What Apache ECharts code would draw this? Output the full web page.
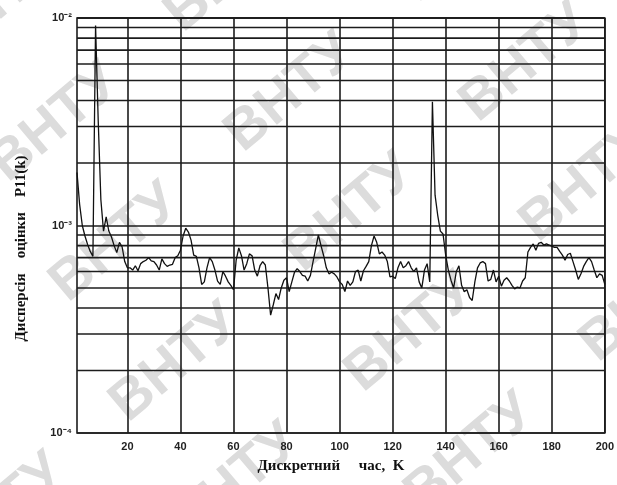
<!DOCTYPE html>
<html>
<head>
<meta charset="utf-8">
<script src="https://cdn.jsdelivr.net/npm/echarts@6/dist/echarts.min.js"></script>
<style>
  html, body { margin: 0; padding: 0; background: #fff; }
  #chart { width: 617px; height: 485px; }
</style>
</head>
<body>
<div id="chart"></div>
<script>
// дискретний час K = 1..200, дисперсія оцінки P11(k)
const variance = [
    1.8e-3, 1.26e-3, 1.0e-3, 8.9e-4, 8.1e-4, 7.5e-4, 7.1e-4, 9.2e-3, 3.2e-3, 1.33e-3,
    9.4e-4, 1.1e-3, 9.4e-4, 8.8e-4, 8.0e-4, 7.4e-4, 8.3e-4, 7.9e-4, 6.7e-4, 6.25e-4,
    6.25e-4, 6.1e-4, 6.4e-4, 6.05e-4, 6.55e-4, 6.7e-4, 6.8e-4, 7.0e-4, 6.75e-4, 6.7e-4,
    6.45e-4, 6.1e-4, 6.9e-4, 6.55e-4, 6.35e-4, 6.45e-4, 6.5e-4, 7.0e-4, 7.15e-4, 7.6e-4,
    8.9e-4, 9.7e-4, 9.3e-4, 8.5e-4, 7.2e-4, 7.1e-4, 6.25e-4, 5.2e-4, 5.35e-4, 6.25e-4,
    7.0e-4, 6.7e-4, 6.1e-4, 5.4e-4, 5.2e-4, 6.0e-4, 5.7e-4, 5.35e-4, 5.15e-4, 4.9e-4,
    6.8e-4, 7.8e-4, 7.15e-4, 6.1e-4, 6.55e-4, 7.3e-4, 7.15e-4, 6.1e-4, 5.7e-4, 6.4e-4,
    6.7e-4, 6.45e-4, 5.0e-4, 3.7e-4, 4.15e-4, 4.7e-4, 4.4e-4, 5.0e-4, 5.45e-4, 5.6e-4,
    4.8e-4, 5.35e-4, 5.95e-4, 6.2e-4, 6.0e-4, 5.75e-4, 5.7e-4, 5.4e-4, 5.75e-4, 6.7e-4,
    7.75e-4, 9.0e-4, 8.0e-4, 7.15e-4, 6.25e-4, 5.85e-4, 5.95e-4, 5.85e-4, 5.65e-4, 5.35e-4,
    5.2e-4, 4.8e-4, 5.4e-4, 5.15e-4, 5.35e-4, 6.0e-4, 6.1e-4, 5.4e-4, 6.05e-4, 6.35e-4,
    6.7e-4, 8.0e-4, 8.9e-4, 8.3e-4, 7.3e-4, 7.45e-4, 7.2e-4, 6.7e-4, 5.65e-4, 5.7e-4,
    5.55e-4, 6.25e-4, 6.7e-4, 6.25e-4, 6.4e-4, 6.7e-4, 6.25e-4, 6.0e-4, 6.25e-4, 5.35e-4,
    5.0e-4, 6.1e-4, 6.55e-4, 5.35e-4, 3.95e-3, 1.4e-3, 1.12e-3, 9.4e-4, 9.1e-4, 7.2e-4,
    6.1e-4, 5.45e-4, 5.0e-4, 6.0e-4, 6.4e-4, 5.15e-4, 4.8e-4, 4.9e-4, 4.5e-4, 4.35e-4,
    5.35e-4, 6.25e-4, 6.6e-4, 6.7e-4, 6.55e-4, 5.4e-4, 5.5e-4, 6.1e-4, 5.35e-4, 5.7e-4,
    5.1e-4, 5.45e-4, 5.6e-4, 5.4e-4, 5.15e-4, 4.95e-4, 5.05e-4, 5.0e-4, 5.4e-4, 5.6e-4,
    7.45e-4, 7.85e-4, 8.15e-4, 7.6e-4, 8.2e-4, 8.3e-4, 8.05e-4, 8.15e-4, 8.05e-4, 7.95e-4,
    7.85e-4, 7.85e-4, 7.5e-4, 7.2e-4, 6.8e-4, 7.25e-4, 7.35e-4, 6.7e-4, 6.1e-4, 5.5e-4,
    5.85e-4, 6.35e-4, 6.7e-4, 7.0e-4, 6.7e-4, 6.1e-4, 5.6e-4, 5.85e-4, 5.75e-4, 5.2e-4
]

const xTicks = [20, 40, 60, 80, 100, 120, 140, 160, 180, 200]
const yTickLabels = ['10⁻⁴', '10⁻³', '10⁻²']
// log minor grid (2..9 within each decade)
const minorGrid = [
    2e-4, 3e-4, 4e-4, 5e-4, 6e-4, 7e-4, 8e-4, 9e-4,
    2e-3, 3e-3, 4e-3, 5e-3, 6e-3, 7e-3, 8e-3, 9e-3
]

const gridColor = '#1c1c1c'
const serif = '"Liberation Serif", "DejaVu Serif", serif'

// watermark "ВНТУ" tiled diagonally
const watermark = []
for (let row = -2; row < 6; row++) {
    for (let col = -1; col < 5; col++) {
        watermark.push({
            type: 'text',
            x: col * 175 + row * 60 - 20,
            y: row * 120 + col * -150 + 150,
            rotation: 0.7,
            z: -10,
            style: {
                text: 'ВНТУ',
                fill: '#dcdcdc',
                font: 'bold 56px "Liberation Sans", Arial, sans-serif'
            }
        })
    }
}

// horizontal minor grid lines drawn as flat two-point series
const minorSeries = minorGrid.map(v => ({
    type: 'line',
    data: [[1, v], [200, v]],
    symbol: 'none',
    silent: true,
    z: 1,
    lineStyle: { color: gridColor, width: 1.6 }
}))

const chart = echarts.init(document.getElementById('chart'))
chart.setOption({
    backgroundColor: '#fff',
    animation: false,
    graphic: watermark,
    grid: {
        left: 77,
        right: 3,
        top: 18,
        bottom: 52,
        show: true,
        borderColor: gridColor,
        borderWidth: 1.6,
        backgroundColor: 'transparent'
    },
    xAxis: {
        type: 'value',
        min: 1,
        max: 200,
        name: 'Дискретний     час,  K',
        nameLocation: 'middle',
        nameGap: 26,
        nameTextStyle: {
            fontFamily: serif,
            fontWeight: 'bold',
            fontSize: 15,
            color: '#111',
            padding: [0, 20, 0, 0]
        },
        axisLine: { show: false },
        axisTick: { show: false, customValues: xTicks },
        axisLabel: {
            customValues: xTicks,
            margin: 8,
            fontFamily: '"Liberation Sans", Arial, sans-serif',
            fontWeight: 'bold',
            fontSize: 11,
            color: '#222'
        },
        splitLine: { show: true, lineStyle: { color: gridColor, width: 1.6 } }
    },
    yAxis: {
        type: 'log',
        logBase: 10,
        min: 1e-4,
        max: 1e-2,
        name: 'Дисперсія    оцінки    P11(k)',
        nameLocation: 'middle',
        nameGap: 48,
        nameRotate: 90,
        nameTextStyle: {
            fontFamily: serif,
            fontWeight: 'bold',
            fontSize: 15,
            color: '#111',
            padding: [0, 46, 0, 0]
        },
        axisLine: { show: false },
        axisTick: { show: false },
        axisLabel: {
            margin: 5,
            fontFamily: '"Liberation Sans", Arial, sans-serif',
            fontWeight: 'bold',
            fontSize: 11,
            color: '#222',
            formatter: v => yTickLabels[Math.round(Math.log10(v)) + 4]
        },
        splitLine: { show: true, lineStyle: { color: gridColor, width: 1.6 } }
    },
    series: minorSeries.concat([{
        type: 'line',
        data: variance.map((v, i) => [i + 1, v]),
        symbol: 'none',
        z: 3,
        lineStyle: { color: '#111', width: 1.3 }
    }])
})
</script>
</body>
</html>
